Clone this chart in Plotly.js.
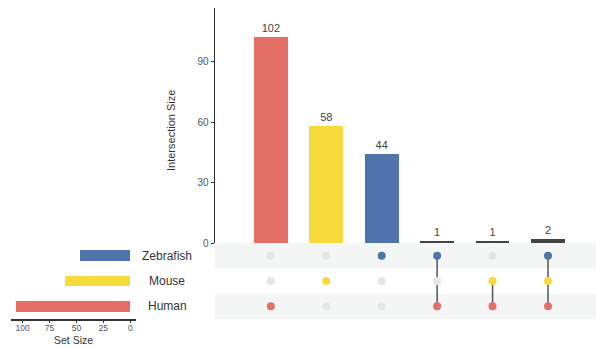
<!DOCTYPE html>
<html>
<head>
<meta charset="utf-8">
<script src="https://cdn.plot.ly/plotly-3.0.1.min.js"></script>
<style>
  html, body { margin: 0; padding: 0; background: #fff; }
  #chart { width: 596px; height: 347px; }
</style>
</head>
<body>
<div id="chart"></div>
<script>
// Sets (bottom row first) and their total sizes
const sets = ['Human', 'Mouse', 'Zebrafish'];
const setSizes = [106, 61, 47];
const setColors = ['#E46F66', '#F7DA3C', '#4F74AC'];

// Intersections, in column order, with their sizes
const combos = [
  ['Human'],
  ['Mouse'],
  ['Zebrafish'],
  ['Human', 'Zebrafish'],
  ['Human', 'Mouse'],
  ['Human', 'Mouse', 'Zebrafish']
];
const counts = [102, 58, 44, 1, 1, 2];

const sizeTicks = [100, 75, 50, 25, 0];
const countTicks = [0, 30, 60, 90];

const FONT = 'Liberation Sans, Arial, sans-serif';
const multiColor = '#444444';
const offDot = '#E4E6E8';
const linkColor = '#555555';
const stripe = '#F4F6F6';

const cols = combos.map((c, i) => i);
const rowOf = name => sets.indexOf(name);

const barColors = combos.map(c => c.length === 1 ? setColors[rowOf(c[0])] : multiColor);

const traces = [];

// Intersection size bars
traces.push({
  type: 'bar', x: cols, y: counts, xaxis: 'x', yaxis: 'y',
  width: 0.61, marker: { color: barColors },
  text: counts.map(String), textposition: 'outside', cliponaxis: false,
  textfont: { family: FONT, size: 11, color: '#444' },
  hoverinfo: 'skip', showlegend: false
});

// Connecting lines between member dots
combos.forEach((c, i) => {
  if (c.length < 2) return;
  const rows = c.map(rowOf);
  traces.push({
    type: 'scatter', mode: 'lines', xaxis: 'x2', yaxis: 'y2',
    x: [i, i], y: [Math.min(...rows), Math.max(...rows)],
    line: { color: linkColor, width: 1.5 }, hoverinfo: 'skip', showlegend: false
  });
});

// Matrix dots: inactive cells grey, members in set colour
const dx = [], dy = [], dc = [];
combos.forEach((c, i) => {
  sets.forEach((s, r) => {
    dx.push(i); dy.push(r);
    dc.push(c.includes(s) ? setColors[r] : offDot);
  });
});
traces.push({
  type: 'scatter', mode: 'markers', xaxis: 'x2', yaxis: 'y2',
  x: dx, y: dy, marker: { color: dc, size: 8 },
  hoverinfo: 'skip', showlegend: false
});

// Set size bars
traces.push({
  type: 'bar', orientation: 'h', xaxis: 'x3', yaxis: 'y3',
  x: setSizes, y: sets.map((s, i) => i), width: 0.415,
  marker: { color: setColors }, hoverinfo: 'skip', showlegend: false
});

const xDom = [215 / 596, 1];
const sizeDom = [11 / 596, 136 / 596];
const topDom = [(347 - 243) / 347, (347 - 8) / 347];
const matDom = [(347 - 319) / 347, (347 - 243) / 347];

const shapes = [0, 2].map(r => ({
  type: 'rect', xref: 'paper', yref: 'y2', layer: 'below',
  x0: xDom[0], x1: 1, y0: r - 0.5, y1: r + 0.5,
  fillcolor: stripe, line: { width: 0 }
}));

const annotations = sets.map((s, r) => ({
  xref: 'paper', yref: 'y2', x: 167 / 596, y: r, text: s, showarrow: false,
  xanchor: 'center', yanchor: 'middle',
  font: { family: FONT, size: 12, color: '#333' }
}));
annotations.push({
  xref: 'paper', yref: 'paper', x: 171 / 596, y: (347 - 131) / 347,
  text: 'Intersection Size', textangle: -90, showarrow: false,
  xanchor: 'center', yanchor: 'middle',
  font: { family: FONT, size: 11, color: '#333' }
});
annotations.push({
  xref: 'paper', yref: 'paper', x: (sizeDom[0] + sizeDom[1]) / 2, y: (347 - 339.5) / 347,
  text: 'Set Size', showarrow: false, xanchor: 'center', yanchor: 'middle',
  font: { family: FONT, size: 10.5, color: '#333' }
});

const layout = {
  width: 596, height: 347,
  margin: { l: 0, r: 0, t: 0, b: 0 },
  paper_bgcolor: '#fff', plot_bgcolor: 'rgba(0,0,0,0)',
  font: { family: FONT },
  showlegend: false,
  bargap: 0,
  xaxis: {
    domain: xDom, range: [-1.007, 5.866], showgrid: false, zeroline: false,
    showline: false, showticklabels: false, ticks: '', fixedrange: true
  },
  yaxis: {
    domain: topDom, range: [0, 116.6], anchor: 'x',
    showgrid: false, zeroline: false, showline: true, linecolor: '#333', linewidth: 1.5,
    ticks: 'outside', ticklen: 3, tickcolor: '#333', tickvals: countTicks,
    tickfont: { family: FONT, size: 10, color: '#555' }
  },
  xaxis2: {
    domain: xDom, matches: 'x', anchor: 'y2', showgrid: false, zeroline: false,
    showline: false, showticklabels: false, ticks: ''
  },
  yaxis2: {
    domain: matDom, range: [-0.5, 2.5], anchor: 'x2',
    showgrid: false, zeroline: false, showline: false, showticklabels: false, ticks: ''
  },
  xaxis3: {
    domain: sizeDom, range: [110.7, -5.3], anchor: 'y3',
    showgrid: false, zeroline: false, showline: true, linecolor: '#333', linewidth: 1.5,
    ticks: 'outside', ticklen: 2, tickcolor: '#333', tickvals: sizeTicks,
    ticklabelstandoff: -2,
    tickfont: { family: FONT, size: 8.5, color: '#555' }
  },
  yaxis3: {
    domain: matDom, matches: 'y2', anchor: 'x3',
    showgrid: false, zeroline: false, showline: false, showticklabels: false, ticks: ''
  },
  shapes: shapes,
  annotations: annotations
};

Plotly.newPlot('chart', traces, layout, { displayModeBar: false, staticPlot: true });
</script>
</body>
</html>
